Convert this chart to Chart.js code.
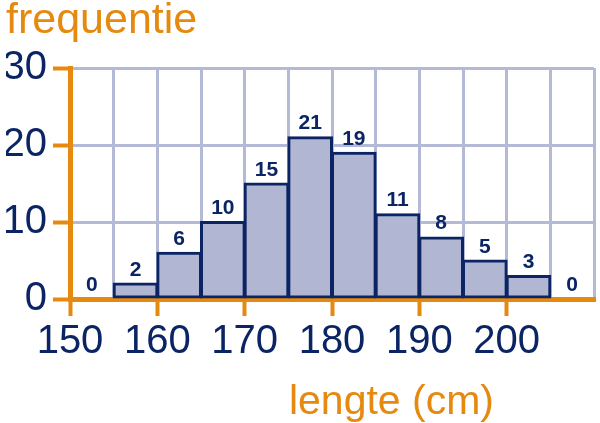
<!DOCTYPE html>
<html>
<head>
<meta charset="utf-8">
<script src="https://cdn.jsdelivr.net/npm/chart.js@4"></script>
<style>
  body { margin: 0; background: #fff; }
</style>
</head>
<body>
<canvas id="myChart" width="600" height="423"></canvas>
<script>
// klassen van 5 cm, beginwaarde van elke klasse
const binStart = [150, 155, 160, 165, 170, 175, 180, 185, 190, 195, 200, 205];
const freq = [0, 2, 6, 10, 15, 21, 19, 11, 8, 5, 3, 0];
const binWidth = 5;
const xTickLabels = [150, 160, 170, 180, 190, 200];
const yTickLabels = [0, 10, 20, 30];

const orange = "#e6890f";
const navy = "#0b2464";
const lavender = "#b4b9d6";
const barFill = "#b1b6d3";

Chart.defaults.font.family = "'Liberation Sans', Arial, sans-serif";

let points = [];
binStart.forEach((b, i) => {
  points.push({ x: b + binWidth / 2, y: freq[i] });
});

// alleen de hele tientallen krijgen een oranje streepje
function tickCol(list) {
  return c => (c.tick && list.includes(c.tick.value)) ? orange : "rgba(0,0,0,0)";
}

// getallen boven de staven
const barLabels = {
  id: "barLabels",
  afterDatasetsDraw(chart) {
    const ctx = chart.ctx;
    const meta = chart.getDatasetMeta(0);
    ctx.save();
    ctx.fillStyle = navy;
    ctx.font = "bold 21px 'Liberation Sans', Arial, sans-serif";
    ctx.textAlign = "center";
    ctx.textBaseline = "alphabetic";
    meta.data.forEach((el, i) => {
      ctx.fillText(freq[i], el.x, el.y - 8);
    });
    ctx.restore();
  }
};

// as-naam onder de x-as
const xName = {
  id: "xName",
  afterDraw(chart) {
    const ctx = chart.ctx;
    ctx.save();
    ctx.fillStyle = orange;
    ctx.font = "41px 'Liberation Sans', Arial, sans-serif";
    ctx.textAlign = "right";
    ctx.textBaseline = "alphabetic";
    ctx.fillText("lengte (cm)", 494, 414);
    ctx.restore();
  }
};

new Chart("myChart", {
  type: "bar",
  data: {
    datasets: [{
      data: points,
      backgroundColor: barFill,
      borderColor: navy,
      borderWidth: 3,
      borderSkipped: false,
      inflateAmount: 1,
      barPercentage: 1,
      categoryPercentage: 1
    }]
  },
  options: {
    responsive: false,
    animation: false,
    layout: { padding: { left: 6, right: 6, top: 0, bottom: 55 } },
    plugins: {
      legend: { display: false },
      tooltip: { enabled: false },
      title: {
        display: true,
        text: "frequentie",
        align: "start",
        color: orange,
        font: { size: 43, weight: "normal", lineHeight: 1.0 },
        padding: { top: 0, bottom: 25 }
      }
    },
    scales: {
      x: {
        type: "linear",
        min: 150,
        max: 210,
        offset: false,
        border: { color: orange, width: 5 },
        grid: {
          offset: false,
          color: lavender,
          lineWidth: 3,
          tickLength: 17,
          tickColor: tickCol(xTickLabels),
          tickWidth: 4
        },
        ticks: {
          stepSize: 5,
          autoSkip: false,
          maxRotation: 0,
          padding: 2,
          color: navy,
          font: { size: 40 },
          callback: v => xTickLabels.includes(v) ? v : ""
        }
      },
      y: {
        min: 0,
        max: 30,
        afterFit: s => { s.width = 64; },
        border: { color: orange, width: 5 },
        grid: {
          color: lavender,
          lineWidth: 3,
          tickLength: 17,
          tickColor: tickCol(yTickLabels),
          tickWidth: 4
        },
        ticks: {
          stepSize: 5,
          padding: 6,
          color: navy,
          font: { size: 40 },
          callback: v => yTickLabels.includes(v) ? v : ""
        }
      }
    }
  },
  plugins: [barLabels, xName]
});
</script>
</body>
</html>
